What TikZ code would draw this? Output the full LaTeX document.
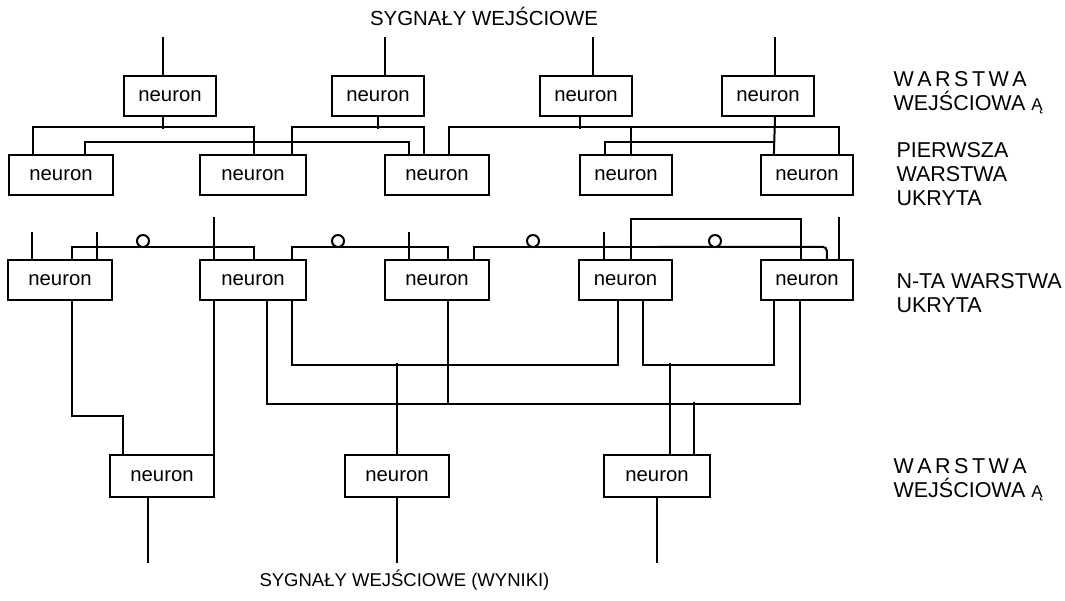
\documentclass[tikz,border=0pt]{standalone}
\usepackage{fontspec}
\setmainfont{Liberation Sans}
\usetikzlibrary{calc}
\newcommand{\spacedwarstwa}{W\kern3.5pt A\kern3.5pt R\kern3.5pt S\kern3.5pt T\kern3.5pt W\kern3.5pt A}
\newcommand{\tailmark}{{\fontsize{17}{18}\selectfont Ą}}
\begin{document}
\begin{tikzpicture}[x=1pt,y=-1pt,
  neuron/.style={draw, line width=2.2pt, minimum height=40pt, inner sep=0pt,
                 font=\fontsize{20.3}{24}\selectfont},
  wire/.style={line width=2pt},
  inhib/.style={circle, draw, line width=2pt, fill=white, minimum size=12pt, inner sep=0pt},
  signal/.style={font=\fontsize{20.4}{24}\selectfont},
  layername/.style={font=\fontsize{21.5}{24}\selectfont, align=left, anchor=west}]
\useasboundingbox (0,0) rectangle (1065,600);

% input layer
\node[neuron, minimum width=92pt] (i1) at (170,96) {neuron};
\node[neuron, minimum width=92pt] (i2) at (378,96) {neuron};
\node[neuron, minimum width=92pt] (i3) at (586,96) {neuron};
\node[neuron, minimum width=92pt] (i4) at (768,96) {neuron};

% first hidden layer
\node[neuron, minimum width=104pt] (h1) at (61,175) {neuron};
\node[neuron, minimum width=106pt] (h2) at (253,175) {neuron};
\node[neuron, minimum width=104pt] (h3) at (437,175) {neuron};
\node[neuron, minimum width=92pt]  (h4) at (626,175) {neuron};
\node[neuron, minimum width=92pt]  (h5) at (807,175) {neuron};

% n-th hidden layer
\node[neuron, minimum width=104pt] (n1) at (60,280) {neuron};
\node[neuron, minimum width=106pt] (n2) at (253,280) {neuron};
\node[neuron, minimum width=104pt] (n3) at (437,280) {neuron};
\node[neuron, minimum width=93pt]  (n4) at (625.5,280) {neuron};
\node[neuron, minimum width=92pt]  (n5) at (807,280) {neuron};

% output layer
\node[neuron, minimum width=104pt, minimum height=42pt] (o1) at (162,476) {neuron};
\node[neuron, minimum width=104pt, minimum height=42pt] (o2) at (397,476) {neuron};
\node[neuron, minimum width=106pt, minimum height=42pt] (o3) at (657,476) {neuron};

% incoming signals
\draw[wire] ($(i1.north)+(-7,0)$) -- ++(0,-38);
\draw[wire] ($(i2.north)+(7,0)$) -- ++(0,-38);
\draw[wire] ($(i3.north)+(7,0)$) -- ++(0,-38);
\draw[wire] ($(i4.north)+(7,0)$) -- ++(0,-38);

% input layer -> first hidden layer
\draw[wire] ($(i1.south)+(-7,0)$) -- ++(0,12);
\draw[wire] ($(h1.north west)+(25,0)$) |- ($(h2.north west)+(55,-27)$) -- ($(h2.north west)+(55,0)$);
\draw[wire] ($(h1.north west)+(77,0)$) |- ($(h3.north west)+(25,-12)$) -- ($(h3.north west)+(25,0)$);
\draw[wire] (i2.south) -- ++(0,12);
\draw[wire] ($(h2.north west)+(93,0)$) |- ($(h3.north west)+(40,-27)$) -- ($(h3.north west)+(40,0)$);
\draw[wire] ($(i3.south)+(-6,0)$) -- ++(0,12);
\draw[wire] ($(h3.north west)+(65,0)$) |- ($(h5.north west)+(79,-27)$) -- ($(h5.north west)+(79,0)$);
\draw[wire] ($(h4.north west)+(52,0)$) -- ++(0,-27);
\draw[wire] ($(i4.south)+(7,0)$) -- ($(h5.north west)+(14,0)$);
\draw[wire] ($(h4.north west)+(26,0)$) |- ($(h5.north west)+(14,-12)$);

% n-th hidden layer: lateral links and inputs
\draw[wire] ($(n1.north west)+(65,0)$) |- ($(n2.north west)+(55,-12)$) -- ($(n2.north west)+(55,0)$);
\draw[wire] ($(n2.north west)+(93,0)$) |- ($(n3.north west)+(64,-12)$) -- ($(n3.north west)+(64,0)$);
\draw[wire] ($(n3.north west)+(90,0)$) |- ($(n4.north west)+(80,-12)$) coordinate (m1);
\draw[wire, rounded corners=4pt] (m1) -| ($(n5.north west)+(67,0)$);
\draw[wire] ($(n4.north west)+(53,0)$) |- ($(n5.north west)+(41,-40)$) -- ($(n5.north west)+(41,0)$);
\node[inhib] (c1) at (143,241) {};
\node[inhib] (c2) at (338,241) {};
\node[inhib] (c3) at (533,241) {};
\node[inhib] (c4) at (715,241) {};
\draw[wire] ($(n1.north west)+(25,0)$) -- ++(0,-27);
\draw[wire] ($(n1.north west)+(90,0)$) -- ++(0,-27);
\draw[wire] ($(n2.north west)+(15,0)$) -- ++(0,-42);
\draw[wire] ($(n3.north west)+(25,0)$) -- ++(0,-27);
\draw[wire] ($(n4.north west)+(26,0)$) -- ++(0,-27);
\draw[wire] ($(n5.north west)+(79,0)$) -- ++(0,-42);

% n-th hidden layer -> output layer
\draw[wire] ($(n1.south west)+(65,0)$) |- ($(o1.north west)+(14,-38)$) -- ($(o1.north west)+(14,0)$);
\draw[wire] ($(n2.south west)+(15,0)$) coordinate (d1) -- (d1 |- o1.north);
\draw[wire] ($(n2.south west)+(68,0)$) |- ($(n5.south west)+(40,103)$) -- ($(n5.south west)+(40,0)$);
\draw[wire] ($(n3.south west)+(64,0)$) -- ++(0,103);
\draw[wire] ($(n2.south west)+(93,0)$) |- ($(n4.south west)+(40,64)$) -- ($(n4.south west)+(40,0)$);
\draw[wire] (o2.north) -- ++(0,-91);
\draw[wire] ($(n4.south west)+(65,0)$) |- ($(n5.south west)+(14,64)$) -- ($(n5.south west)+(14,0)$);
\draw[wire] ($(o3.north west)+(67,0)$) -- ++(0,-91);
\draw[wire] ($(o3.north west)+(91,0)$) -- ++(0,-52);

% outgoing signals
\draw[wire] ($(o1.south west)+(39,0)$) -- ++(0,65);
\draw[wire] (o2.south) -- ++(0,65);
\draw[wire] (o3.south) -- ++(0,65);

% captions
\node[signal] (tin) at (484,16) {SYGNAŁY WEJŚCIOWE};
\node[signal, anchor=west, font=\fontsize{18.5}{22}\selectfont] (tout) at (256,580) {SYGNAŁY WEJŚCIOWE (WYNIKI)};
\node[layername] (l1) at (890,93) {\spacedwarstwa\\WEJŚCIOWA \tailmark};
\node[layername] (l2) at (893,174) {PIERWSZA\\WARSTWA\\UKRYTA};
\node[layername] (l3) at (893,293) {N-TA WARSTWA\\UKRYTA};
\node[layername] (l4) at (890,480) {\spacedwarstwa\\WEJŚCIOWA \tailmark};
\end{tikzpicture}
\end{document}
